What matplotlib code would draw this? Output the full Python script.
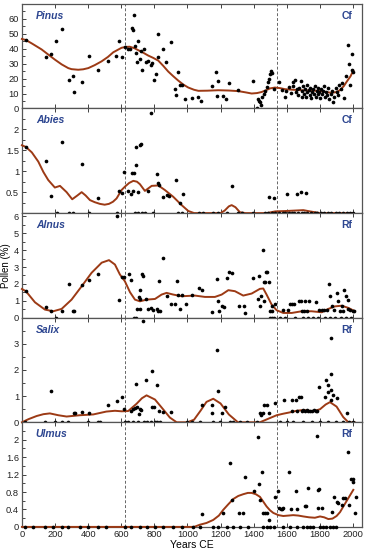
import matplotlib
matplotlib.use("Agg")
import matplotlib.pyplot as plt
from matplotlib.ticker import MultipleLocator

plt.rcParams['font.family'] = ['Arial', 'Liberation Sans', 'DejaVu Sans']

# ---------------- data ----------------
taxa = ['Pinus', 'Abies', 'Alnus', 'Salix', 'Ulmus']
tags = ['Cf', 'Cf', 'Rf', 'Rf', 'Rf']

# Pinus
pinus_x = [24, 143, 173, 208, 240, 284, 308, 312, 365, 403, 457, 522, 570, 586, 602, 625, 640, 655,
           667, 673, 675, 683, 689, 695, 701, 715, 719, 725, 735, 747, 759, 779, 787, 796, 808, 820,
           824, 852, 872, 900, 924, 932, 945, 957, 965, 985, 1029, 1066, 1082, 1146, 1172, 1178,
           1183, 1217, 1231, 1253, 1307, 1396, 1418, 1425, 1430, 1440, 1445, 1452, 1462, 1470,
           1478, 1488, 1490, 1500, 1505, 1512, 1520, 1553, 1569, 1590, 1595, 1612, 1625, 1635,
           1640, 1650, 1655, 1662, 1670, 1676, 1686, 1690, 1695, 1700, 1705, 1710, 1715, 1720,
           1725, 1732, 1738, 1742, 1748, 1752, 1758, 1765, 1770, 1775, 1780, 1786, 1790, 1795,
           1800, 1806, 1812, 1818, 1825, 1830, 1838, 1845, 1850, 1858, 1865, 1872, 1880, 1888,
           1895, 1902, 1910, 1918, 1925, 1935, 1945, 1960, 1970, 1978, 1982, 1992, 1995, 2000]
pinus_y = [45.8, 34.2, 36.5, 45, 53, 19, 22, 11.3, 17.7, 35, 25.9, 32, 35, 45, 34.7, 41, 39.5, 39.5,
           54, 52.6, 62.4, 41.7, 37.2, 30.8, 45, 33.3, 38.3, 26, 40, 31.3, 32, 28.8, 30.4, 19, 23, 34.2,
           50, 40, 31.3, 44.4, 13.1, 9.3, 24.7, 15.4, 15.9, 6.3, 7, 7.7, 4.8, 15, 24.3, 8.4,
           18.4, 8.4, 6.6, 17.2, 12.2, 18.1, 0.2, 6.5, 5, 4, 2.5, 8, 9.5, 12,
           14.5, 17.5, 20, 23, 25, 24, 13, 17.5, 12.2, 8, 12, 14.5, 10.5, 15,
           18, 19, 11, 13, 9, 14, 18.6, 12, 7.5, 15, 10, 13, 8, 16,
           11, 12.5, 9, 14, 7, 11, 13, 10, 15, 8, 12, 9.5, 14, 11,
           7, 13, 10, 12, 15, 8, 11, 9, 13.5, 6, 10, 12, 4.5, 8,
           14, 11, 9, 16, 13, 17, 7, 21.8, 42.2, 29.7, 16, 36.7, 25.5, 24.5]
pinus_cx = [0, 24, 60, 119, 160, 199, 240, 280, 300, 340, 370, 401, 440, 481, 520, 552, 602, 628,
            652, 680, 703, 733, 763, 794, 824, 854, 884, 915, 945, 975, 1005, 1040, 1066, 1120,
            1186, 1250, 1307, 1350, 1388, 1420, 1448, 1475, 1498, 1529, 1560, 1589, 1640, 1690,
            1740, 1790, 1830, 1871, 1900, 1921, 1945, 1962, 1985, 2002]
pinus_cy = [46.5, 45.8, 43.5, 39.5, 36, 32.7, 29.5, 27, 26.3, 25.9, 26.2, 27, 29, 31.5, 34.5, 37.6,
            40.6, 41.2, 41.3, 40.3, 39, 37.3, 35.4, 33.8, 32, 28.5, 24.7, 21.5, 18.6, 16, 14, 12.5,
            11.8, 11.9, 12.2, 12, 11.6, 10.8, 10, 10.3, 11, 12.2, 13.4, 14, 13.6, 12.9, 12.5,
            12.2, 12, 11.8, 11.2, 10.4, 11, 12.2, 15, 17.9, 21.5, 25.4]

# Abies
abies_x = [24, 143, 175, 240, 365, 461, 588, 604, 618, 642, 659, 673, 663, 675, 687, 715, 719, 689,
           703, 759, 779, 814, 824, 828, 854, 874, 888, 930, 953, 971, 1271, 1493, 1525, 1600,
           1660, 1684, 1714,
           210, 286, 310, 407, 572, 683, 703, 723, 743, 794, 945, 965, 1071, 1095, 1156, 1186,
           1236, 1307, 1327, 1397, 1468, 1488, 1508, 1529, 1556, 1575, 1590, 1612, 1630, 1645,
           1668, 1690, 1705, 1722, 1745, 1770, 1785, 1808, 1825, 1850, 1870, 1895, 1915, 1940,
           1962, 1985, 2003]
abies_y = [1.58, 1.25, 0.41, 1.69, 1.17, 0.37, 0.53, 0.49, 0.97, 0.53, 0.45, 0.53, 0.95, 0.96, 1.58,
           1.63, 1.66, 1.14, 0.5, 0.52, 2.4, 0.94, 0.71, 0.67, 0.39, 0.43, 0.41, 0.79, 0.24, 0.45,
           0.65, 0.38, 0.35, 0.45, 0.45, 0.5, 0.49,
           0, 0, 0, 0, 0, 0, 0, 0, 0, 0, 0, 0, 0, 0, 0, 0,
           0, 0, 0, 0, 0, 0, 0, 0, 0, 0, 0, 0, 0, 0,
           0, 0, 0, 0, 0, 0, 0, 0, 0, 0, 0, 0, 0, 0,
           0, 0, 0]
abies_cx = [0, 24, 60, 99, 130, 159, 199, 230, 270, 304, 335, 361, 385, 411, 440, 471, 500, 526,
            550, 572, 602, 622, 648, 673, 695, 713, 743, 784, 824, 864, 914, 965, 1005, 1040, 1100,
            1200, 1225, 1250, 1267, 1290, 1317, 1350, 1480, 1530, 1600, 1650, 1700, 1740, 1800,
            2000]
abies_cy = [1.62, 1.58, 1.45, 1.23, 0.98, 0.79, 0.61, 0.65, 0.5, 0.33, 0.42, 0.5, 0.42, 0.31, 0.26,
            0.22, 0.2, 0.22, 0.27, 0.35, 0.55, 0.63, 0.72, 0.77, 0.75, 0.69, 0.53, 0.65, 0.66, 0.55,
            0.39, 0.19, 0.05, 0, 0, 0, 0.06, 0.16, 0.19, 0.14, 0.02, 0, 0, 0.04, 0.05, 0.06, 0.07,
            0.04, 0, 0]

# Alnus
alnus_x = [24, 143, 175, 240, 284, 308, 312, 365, 403, 461, 572, 588, 606, 618, 647, 661, 693, 713,
           707, 713, 715, 723, 733, 749, 759, 779, 790, 814, 824, 834, 828, 850, 874, 898, 924,
           935, 945, 965, 955, 989, 1029, 1070, 1086, 1146, 1178, 1182, 1190, 1211, 1223, 1237,
           1253, 1267, 1313, 1341, 1347, 1398, 1424, 1432, 1438, 1444, 1458, 1462, 1468, 1474,
           1480, 1492, 1464, 1499, 1512, 1513, 1529, 1579, 1610, 1620, 1632, 1645, 1674, 1686,
           1695, 1703, 1711, 1720, 1735, 1777, 1797, 1810, 1825, 1841, 1855, 1863, 1871, 1883,
           1902, 1908, 1932, 1948, 1958, 1968, 1972, 1985, 1998, 2008, 1920, 1940,
           208, 677, 687, 1499, 1512, 1525, 1560, 1590, 1650, 1700, 1730, 1760, 1790, 1830,
           1860, 1890, 1925, 1955, 1990]
alnus_y = [1.57, 0.61, 0.38, 0.42, 1.98, 0.38, 0.42, 1.95, 2.26, 2.56, 6.05, 1.03, 2.42, 2.42, 2.56,
           2.26, 0.52, 0.52, 1.23, 1.11, 1.67, 2.56, 2.46, 1.11, 0.52, 0.55, 0.48, 0.5, 0.42,
           0.38, 2.16, 3.55, 1.31, 0.82, 0.82, 2.2, 1.37, 1.37, 0.52, 0.82, 1.37, 1.77, 1.63,
           0.32, 2.3, 1.01, 0.38, 0.67, 0.61, 2.36, 2.72, 2.62, 0.67, 0.71, 0.28, 2.36, 1.11,
           2.46, 0.71, 1.31, 3.99, 2.1, 2.1, 2.7, 2.7, 2.1, 0.97, 0.38, 0.42, 0.67, 0.83, 0.44,
           0.44, 0.83, 0.83, 0.83, 1.01, 1.01, 0.4, 0.4, 1.01, 0.4, 1.01, 0.91, 0.45, 0.45, 0.45,
           0.45, 2.02, 1.31, 0.71, 0.45, 1.49, 0.97, 0.71, 1.63, 1.27, 1.04, 0.5, 0.45, 0.38,
           0.38, 0.4, 0.4,
           0, 0, 0, 0, 0, 0, 0, 0, 0, 0, 0, 0, 0, 0, 0, 0, 0, 0, 0]
alnus_cx = [0, 24, 79, 139, 189, 240, 300, 361, 421, 482, 526, 562, 592, 622, 653, 683, 713, 753,
            804, 844, 874, 914, 965, 1045, 1106, 1166, 1207, 1247, 1287, 1337, 1388, 1438, 1458,
            1478, 1509, 1539, 1579, 1630, 1690, 1750, 1811, 1851, 1891, 1932, 1972, 2012]
alnus_cy = [1.7, 1.57, 0.91, 0.48, 0.38, 0.52, 1.07, 1.86, 2.66, 3.26, 3.41, 3.15, 2.56, 2.16, 1.51,
            1.07, 0.97, 1.07, 1.11, 1.37, 1.47, 1.37, 1.27, 1.31, 1.23, 1.23, 1.37, 1.63, 1.57,
            1.31, 1.43, 1.71, 1.73, 1.37, 0.77, 0.44, 0.28, 0.28, 0.38, 0.38, 0.32, 0.52, 0.67,
            0.71, 0.58, 0.38]

# Salix
salix_x = [175, 312, 320, 361, 405, 522, 572, 606, 618, 687, 733, 747, 788, 818, 660, 672, 685,
           695, 705, 712, 720, 784, 796, 828, 854, 898, 1086, 1146, 1176, 1186, 1150, 1206,
           1226, 1440, 1444, 1462, 1478, 1458, 1494, 1529, 1585, 1630, 1654, 1676, 1684, 1634,
           1660, 1692, 1700, 1710, 1720, 1730, 1742, 1752, 1765, 1775, 1785, 1797, 1831, 1847,
           1837, 1851, 1867, 1867, 1865, 1870, 1881, 1901, 1962,
           18, 139, 199, 240, 280, 401, 461, 471, 622, 642, 673, 703, 737, 753, 777, 803, 814,
           834, 995, 1025, 1075, 1156, 1196, 1257, 1277, 1317, 1357, 1418, 1560, 1600, 1640,
           1700, 1750, 1800, 1850, 1900, 1940, 1975, 2000]
salix_y = [1.19, 0.37, 0.35, 0.39, 0.34, 0.67, 0.8, 0.96, 0.49, 1.47, 3.89, 1.62, 1.95, 1.42, 0.45,
           0.5, 0.55, 0.6, 0.3, 0.5, 0.48, 0.58, 0.58, 0.44, 0.41, 0.41, 0.65, 0.65, 2.75, 1.19,
           0.34, 0.34, 0.57, 0.34, 0.29, 0.66, 0.66, 0.34, 0.34, 0.72, 0.85, 0.85, 0.85, 0.96,
           0.96, 0.43, 0.43, 0.45, 0.47, 0.44, 0.46, 0.44, 0.45, 0.43, 0.46, 0.44, 0.42, 1.34,
           0.98, 1.15, 1.63, 1.44, 3.24, 1.86, 1.22, 0.85, 1.05, 0.92, 0.34,
           0, 0, 0, 0, 0, 0, 0, 0, 0, 0, 0, 0, 0, 0, 0, 0, 0,
           0, 0, 0, 0, 0, 0, 0, 0, 0, 0, 0, 0, 0, 0,
           0, 0, 0, 0, 0, 0, 0, 0]
salix_cx = [0, 40, 89, 130, 169, 220, 270, 350, 431, 510, 562, 602, 642, 693, 725, 753, 804, 854,
            894, 935, 1000, 1040, 1080, 1115, 1156, 1200, 1250, 1305, 1438, 1490, 1539, 1580,
            1619, 1660, 1700, 1760, 1801, 1835, 1861, 1901, 1941, 1972, 2010]
salix_cy = [0, 0.12, 0.24, 0.31, 0.34, 0.27, 0.22, 0.27, 0.3, 0.41, 0.44, 0.42, 0.43, 0.71, 0.92,
            1.03, 0.87, 0.49, 0.18, 0, 0, 0.1, 0.45, 0.78, 0.9, 0.72, 0.3, 0, 0, 0.14, 0.27, 0.33,
            0.38, 0.44, 0.47, 0.42, 0.5, 0.68, 0.77, 0.6, 0.2, 0, 0]

# Ulmus
ulmus_x = [1086, 1212, 1257, 1271, 1311, 1337, 1347, 1402, 1428, 1434, 1438, 1450, 1456, 1466,
           1480, 1494, 1531, 1549, 1555, 1565, 1572, 1580, 1611, 1623, 1660, 1655, 1710, 1716,
           1728, 1781, 1791, 1797, 1791, 1811, 1871, 1887, 1905, 1911, 1932, 1942, 1952, 1972,
           1978, 1986, 1998, 2002, 2010, 2016,
           18, 68, 139, 189, 240, 280, 350, 401, 461, 511, 622, 662, 713, 753, 803, 854, 915,
           965, 1035, 1075, 1156, 1186, 1236, 1277, 1317, 1367, 1458, 1480, 1500, 1520, 1580,
           1620, 1660, 1700, 1720, 1740, 1760, 1800, 1820, 1840, 1860, 1880, 1900]
ulmus_y = [0.3, 0.32, 1.47, 0.61, 0.32, 0.33, 1.15, 0.83, 2.07, 0.99, 0.62, 1.25, 0.32, 0.32, 0.32,
           0.16, 0.69, 0.82, 0.43, 0.42, 0.42, 0.43, 1.25, 0.42, 0.42, 0.82, 0.47, 0.47, 0.89,
           2.09, 0.84, 0.86, 0.44, 0.44, 0.34, 0.69, 0.58, 0.55, 0.5, 0.67, 0.67, 1.72, 0.5, 1.1,
           1.1, 1.02, 0.32, 0.69,
           0, 0, 0, 0, 0, 0, 0, 0, 0, 0, 0, 0, 0, 0, 0, 0, 0,
           0, 0, 0, 0, 0, 0, 0, 0, 0, 0, 0, 0, 0, 0,
           0, 0, 0, 0, 0, 0, 0, 0, 0, 0, 0, 0]
ulmus_cx = [0, 1000, 1040, 1075, 1115, 1156, 1190, 1216, 1247, 1277, 1307, 1337, 1365, 1388, 1413,
            1438, 1458, 1478, 1499, 1519, 1550, 1579, 1610, 1639, 1670, 1700, 1735, 1770, 1801,
            1826, 1851, 1876, 1901, 1922, 1942, 1972, 2002]
ulmus_cy = [0, 0, 0, 0.05, 0.09, 0.16, 0.26, 0.39, 0.52, 0.64, 0.71, 0.75, 0.78, 0.78, 0.75, 0.69,
            0.58, 0.47, 0.38, 0.32, 0.27, 0.25, 0.26, 0.27, 0.26, 0.24, 0.22, 0.21, 0.24, 0.22,
            0.18, 0.19, 0.25, 0.34, 0.47, 0.66, 0.85]

points_x = [pinus_x, abies_x, alnus_x, salix_x, ulmus_x]
points_y = [pinus_y, abies_y, alnus_y, salix_y, ulmus_y]
curves_x = [pinus_cx, abies_cx, alnus_cx, salix_cx, ulmus_cx]
curves_y = [pinus_cy, abies_cy, alnus_cy, salix_cy, ulmus_cy]

y_limits = [70, 2.5, 6.2, 4.0, 2.4]
y_ticks = [[0, 10, 20, 30, 40, 50, 60], [0.5, 1, 1.5, 2], [0, 1, 2, 3, 4, 5, 6],
           [0, 1, 2, 3], [0, 0.4, 0.8, 1.2, 1.6, 2]]
y_ticklabels = [['0', '10', '20', '30', '40', '50', '60'], ['0.5', '1', '1.5', '2'],
                ['0', '1', '2', '3', '4', '5', '6'], ['0', '1', '2', '3'],
                ['0', '0.4', '0.8', '1.2', '1.6', '2']]
y_minor = [5, 0.25, 0.5, 0.5, 0.2]

boundaries = [620, 1540]
x_ticks = [0, 200, 400, 600, 800, 1000, 1200, 1400, 1600, 1800, 2000]

# ---------------- plotting ----------------
curve_col = '#9c3a15'
label_col = '#2c4590'
frame_col = '#555555'

fig = plt.figure(figsize=(3.65, 5.5), dpi=100)
axes = fig.subplots(5, 1, sharex=True, gridspec_kw=dict(hspace=0))
fig.subplots_adjust(left=0.060, right=0.992, top=0.993, bottom=0.042)

for i, ax in enumerate(axes):
    ax.plot(curves_x[i], curves_y[i], color=curve_col, lw=1.4, zorder=3, clip_on=False)
    ax.scatter(points_x[i], points_y[i], s=7, color='black', zorder=4, clip_on=False,
               linewidths=0)
    for b in boundaries:
        ax.axvline(b, color='#666666', ls=(0, (3, 2)), lw=0.7, zorder=2)

    ax.set_xlim(0, 2055)
    ax.set_ylim(0, y_limits[i])
    ax.set_yticks(y_ticks[i])
    ax.set_yticklabels(y_ticklabels[i])
    ax.yaxis.set_minor_locator(MultipleLocator(y_minor[i]))
    ax.set_xticks(x_ticks)
    ax.tick_params(axis='both', which='major', direction='in', length=3, width=0.6,
                   labelsize=6.7, pad=2, colors='#222222', top=True, bottom=True)
    ax.tick_params(axis='y', which='minor', direction='in', length=1.8, width=0.5)
    for sp in ax.spines.values():
        sp.set_color(frame_col)
        sp.set_linewidth(0.9)

    ax.text(0.041, 0.885, taxa[i], transform=ax.transAxes, fontsize=7.5, fontweight='bold',
            fontstyle='italic', color=label_col, ha='left', va='center')
    ax.text(0.972, 0.885, tags[i], transform=ax.transAxes, fontsize=7.5, fontweight='bold',
            color=label_col, ha='right', va='center')
    if i < 4:
        ax.tick_params(axis='x', labelbottom=False)

axes[2].set_ylabel('Pollen (%)', fontsize=7, labelpad=2)
axes[4].set_xlabel('Years CE', fontsize=7.5, labelpad=1)

fig.savefig('out.png', dpi=100)
